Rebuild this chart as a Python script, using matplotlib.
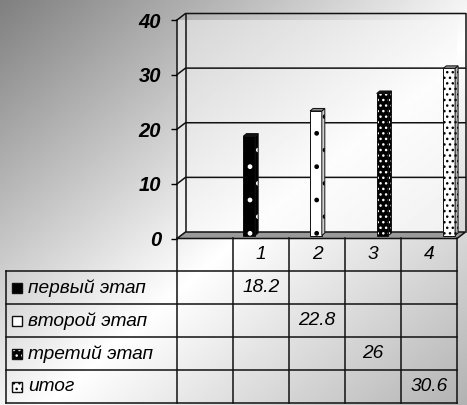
import matplotlib
matplotlib.use("Agg")
import matplotlib.pyplot as plt
import numpy as np
from matplotlib.patches import Polygon, Rectangle

# data
CATEGORIES = ["", "1", "2", "3", "4"]
SERIES = ["первый этап", "второй этап", "третий этап", "итог"]
VALUES = [18.2, 22.8, 26, 30.6]          # series i sits in category i + 1
Y_TICKS = [0, 10, 20, 30, 40]

# face colour, hatch colour, hatch, side colour, top colour
STYLES = [
    ("#000000", "#ffffff", ".", "#000000", "#111111"),
    ("#ffffff", "#000000", ".", "#d0d0d0", "#8c8c8c"),
    ("#000000", "#ffffff", "...", "#000000", "#111111"),
    ("#ffffff", "#000000", "...", "#b8b8b8", "#8c8c8c"),
]

W_PX, H_PX = 467, 405
DPI = 100
PLOT_L, PLOT_R = 177.0, 457.0      # front plane, pixels from left
PLOT_T, PLOT_B = 20.0, 238.5       # front plane, pixels from top
TABLE_L, TABLE_B = 6.0, 403.0

plt.rcParams["font.family"] = ["Liberation Sans", "DejaVu Sans"]

fig = plt.figure(figsize=(W_PX / DPI, H_PX / DPI), dpi=DPI)

# background gradient
bg = fig.add_axes([0, 0, 1, 1], zorder=-10)
gx, gy = np.meshgrid(np.linspace(0, 1, 300), np.linspace(0, 1, 300))
gt = (gx + gy) / 2.0
bg.imshow(np.interp(gt, [0.0, 0.55, 1.0], [0.50, 1.0, 0.70]), cmap="gray",
          vmin=0, vmax=1, extent=(0, 1, 0, 1), origin="upper", aspect="auto")
bg.set_axis_off()

ax = fig.add_axes([PLOT_L / W_PX, 1 - PLOT_B / H_PX,
                   (PLOT_R - PLOT_L) / W_PX, (PLOT_B - PLOT_T) / H_PX])
ax.patch.set_visible(False)
n_cat = len(CATEGORIES)
y_max = Y_TICKS[-1]
ux = n_cat / (PLOT_R - PLOT_L)         # data units per pixel
uy = y_max / (PLOT_B - PLOT_T)
DX, DY = 8.5 * ux, 6.5 * uy            # wall depth
BX, BY = 4.25 * ux, 3.0 * uy           # bars sit half way back
SX, SY = 3.0 * ux, 2.5 * uy            # bar depth

edge = "#111111"

# walls with a soft gradient
wall = Polygon([(0, 0), (0, y_max), (DX, y_max + DY), (n_cat + DX, y_max + DY),
                (n_cat + DX, DY), (DX, DY)], closed=True, facecolor="none",
               edgecolor="none", transform=ax.transData)
ax.add_patch(wall)
wx, wy = np.meshgrid(np.linspace(0, 1, 200), np.linspace(0, 1, 200))
wt = (wx + wy) / 2.0
im = ax.imshow(np.interp(wt, [0.0, 0.6, 1.0], [0.83, 0.99, 0.94]), cmap="gray",
               vmin=0, vmax=1, extent=(0, n_cat + DX, 0, y_max + DY),
               origin="upper", aspect="auto", zorder=0)
im.set_clip_path(wall)
im.set_clip_on(True)

for v in Y_TICKS[1:]:
    ax.plot([0, DX, n_cat + DX], [v, v + DY, v + DY], color=edge, lw=1.1,
            clip_on=False, zorder=1)
ax.plot([DX, DX], [DY, y_max + DY], color=edge, lw=1.1, clip_on=False, zorder=1)
ax.plot([n_cat + DX, n_cat + DX], [DY, y_max + DY], color=edge, lw=1.1,
        clip_on=False, zorder=1)
ax.plot([0, 0], [0, y_max], color=edge, lw=1.1, clip_on=False, zorder=1)

# floor
ax.add_patch(Polygon([(0, 0), (n_cat, 0), (n_cat + DX, DY), (DX, DY)], closed=True,
                     facecolor="#9a9a9a", edgecolor=edge, lw=1.1, clip_on=False,
                     zorder=2))

# bars
slot = 0.19
gap = (1 - slot * len(SERIES)) / 2
bw = 0.21
for i, (name, v) in enumerate(zip(SERIES, VALUES)):
    face, hcol, hatch, side, top = STYLES[i]
    c = (i + 1) + gap + (i + 0.5) * slot
    x0 = c - bw / 2 + BX
    front = [(x0, BY), (x0 + bw, BY), (x0 + bw, v + BY), (x0, v + BY)]
    side_pts = [(x0 + bw, BY), (x0 + bw + SX, BY + SY), (x0 + bw + SX, v + BY + SY),
                (x0 + bw, v + BY)]
    top_pts = [(x0, v + BY), (x0 + bw, v + BY), (x0 + bw + SX, v + BY + SY),
               (x0 + SX, v + BY + SY)]
    for pts, fc in ((front, face), (side_pts, side)):
        ax.add_patch(Polygon(pts, closed=True, facecolor=fc, edgecolor="none",
                             clip_on=False, zorder=3))
        ax.add_patch(Polygon(pts, closed=True, facecolor="none", edgecolor=hcol,
                             hatch=hatch, lw=0, clip_on=False, zorder=3))
        ax.add_patch(Polygon(pts, closed=True, facecolor="none", edgecolor=edge,
                             lw=0.7, clip_on=False, zorder=3))
    ax.add_patch(Polygon(top_pts, closed=True, facecolor=top, edgecolor=edge,
                         lw=0.7, clip_on=False, zorder=3))

ax.set_xlim(0, n_cat)
ax.set_ylim(0, y_max)
ax.set_xticks([])
ax.set_yticks(Y_TICKS)
ax.set_yticklabels([str(t) for t in Y_TICKS], fontsize=14.5, fontweight="bold",
                   fontstyle="italic")
ax.tick_params(axis="y", direction="out", length=4.5, width=1.0, pad=7.0,
               colors="black")
for sp in ax.spines.values():
    sp.set_visible(False)

# data table under the chart
tab = fig.add_axes([TABLE_L / W_PX, 1 - TABLE_B / H_PX,
                    (PLOT_R - TABLE_L) / W_PX, (TABLE_B - PLOT_B) / H_PX])
tab.set_axis_off()
tl = -(PLOT_L - TABLE_L) * ux
n_rows = len(SERIES) + 1
tab.set_xlim(tl, n_cat)
tab.set_ylim(n_rows, 0)
row_px = (TABLE_B - PLOT_B) / n_rows
line_kw = dict(color=edge, lw=1.1, clip_on=False)
for j in range(n_cat + 1):
    tab.plot([j, j], [0, n_rows], **line_kw)
tab.plot([tl, tl], [1, n_rows], **line_kw)
for r in range(1, n_rows + 1):
    tab.plot([tl, n_cat], [r, r], **line_kw)

txt_kw = dict(fontsize=13.8, fontstyle="italic", va="center", color="black")
for j, lab in enumerate(CATEGORIES):
    tab.text(j + 0.5, 0.5, lab, ha="center", **txt_kw)

key_w = 10 * ux
key_h = 10 / row_px
for i, (name, v) in enumerate(zip(SERIES, VALUES)):
    face, hcol, hatch, side, top = STYLES[i]
    ry = i + 1.5
    kx = tl + 6 * ux
    tab.add_patch(Rectangle((kx, ry - key_h / 2), key_w, key_h, facecolor=face,
                            edgecolor="none", clip_on=False))
    tab.add_patch(Rectangle((kx, ry - key_h / 2), key_w, key_h, facecolor="none",
                            edgecolor=hcol, hatch=hatch, lw=0, clip_on=False))
    tab.add_patch(Rectangle((kx, ry - key_h / 2), key_w, key_h, facecolor="none",
                            edgecolor=edge, lw=1.0, clip_on=False))
    tab.text(tl + 22 * ux, ry, name, ha="left", **txt_kw)
    tab.text(i + 1.5, ry, f"{v:g}", ha="center", **txt_kw)

fig.savefig("out.png", dpi=DPI)
